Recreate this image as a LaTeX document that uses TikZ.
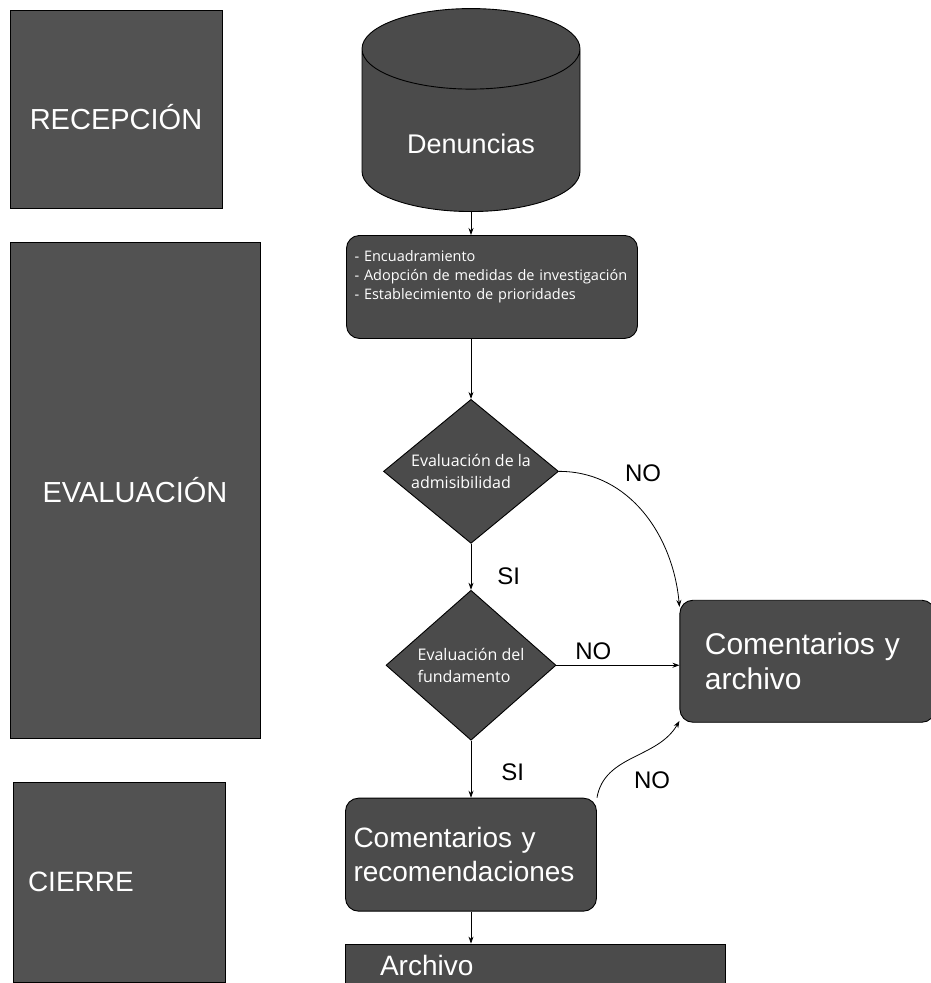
\documentclass[tikz,border=0pt]{standalone}
\usepackage{fontspec}
\setmainfont{Liberation Sans}
\newfontfamily\smallfont{Open Sans}
\usetikzlibrary{positioning,shapes.geometric,arrows.meta}

\definecolor{boxgray}{HTML}{4B4B4B}
\definecolor{phasegray}{HTML}{525252}

\tikzset{
    phase/.style={draw=black, line width=0.9pt, fill=phasegray, text=white, inner sep=0pt,
        font=\fontsize{29}{34}\selectfont},
    proc/.style={draw=black, line width=0.9pt, fill=boxgray, rounded corners=13pt, text=white},
    decision/.style={diamond, draw=black, line width=0.9pt, fill=boxgray, text=white,
        inner sep=-4pt, align=left, font=\smallfont\fontsize{16}{22}\selectfont},
    flow/.style={-{Stealth[length=7pt,width=5pt]}, line width=0.8pt},
    answer/.style={inner sep=0pt, font=\fontsize{24}{28}\selectfont},
}

\begin{document}
\begin{tikzpicture}[x=1pt, y=1pt]
    \useasboundingbox (0,0) rectangle (931,-983);
    \clip (0,0) rectangle (931,-983);

    % fases
    \node [phase, minimum width=212pt, minimum height=198pt, text height=41pt] (recep) at (116,-109) {RECEPCIÓN};
    \node [phase, minimum width=250pt, minimum height=496pt] (eval) at (135,-490) {EVALUACIÓN};
    \node [phase, minimum width=212pt, minimum height=200pt, text width=182pt, align=left,
        font=\fontsize{28}{33}\selectfont] (cierre) at (119,-882) {CIERRE};

    % flujo
    \node [cylinder, shape border rotate=90, aspect=0.6, draw=black, line width=0.9pt, fill=boxgray, text=white,
        minimum width=218pt, minimum height=203pt, anchor=south, text height=36pt,
        font=\fontsize{27}{31}\selectfont] (den) at (471,-212) {Denuncias};
    \node [proc, below=23pt of den, xshift=21pt, minimum width=291pt, minimum height=103pt, text width=275pt,
        inner xsep=8pt, align=left, font=\smallfont\fontsize{14.5}{19}\selectfont] (tareas)
        {- Encuadramiento\\- Adopción de medidas de investigación\\- Establecimiento de prioridades\\[5pt]\mbox{}};
    \node [decision, below=60pt of tareas, xshift=-21pt, minimum width=175pt, minimum height=144pt] (adm) {Evaluación de la\\admisibilidad};
    \node [decision, below=46pt of adm, minimum width=170pt, minimum height=150pt] (fund) {Evaluación del\\fundamento};
    \node [proc, below=57pt of fund, minimum width=251pt, minimum height=113pt, text width=235pt,
        inner xsep=8pt, align=left, font=\fontsize{28}{34}\selectfont] (recom) {Comentarios y\\recomendaciones};
    \node [draw=black, line width=0.9pt, fill=boxgray, text=white, below=32pt of recom, xshift=64pt,
        minimum width=380pt, minimum height=42pt, text width=310pt, inner xsep=35pt, align=left,
        font=\fontsize{28}{33}\selectfont] (archivo) {Archivo};
    \node [proc, right=123pt of fund, yshift=4pt, minimum width=255pt, minimum height=122pt, text width=205pt,
        inner xsep=25pt, align=left, font=\fontsize{30}{35}\selectfont] (coment) {Comentarios y\\archivo};

    \node [answer] (no1) at (643,-473) {NO};
    \node [answer] (no3) at (652,-780) {NO};

    \draw [flow] (den.south) -- (den.south |- tareas.north);
    \draw [flow] (adm.north |- tareas.south) -- (adm.north);
    \draw [flow] (adm.south) -- node [answer, pos=0.7, right=26pt] {SI} (fund.north);
    \draw [flow] (fund.south) -- node [answer, pos=0.55, right=30pt] {SI} (recom.north);
    \draw [flow] (recom.south) -- (recom.south |- archivo.north);
    \draw [flow] (fund.east) -- node [answer, pos=0.3, above=5pt] {NO} (fund.east -| coment.west);
    \draw [flow] (adm.east) to [out=0, in=95] (coment.157);
    \draw [flow] (recom.north east) to [out=80, in=-120] (coment.205);
\end{tikzpicture}
\end{document}
